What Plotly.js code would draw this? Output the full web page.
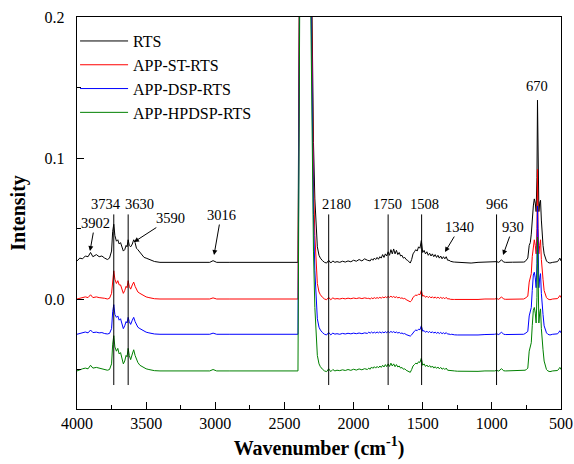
<!DOCTYPE html>
<html>
<head>
<meta charset="utf-8">
<script src="https://cdn.plot.ly/plotly-3.0.1.min.js"></script>
<style>html,body{margin:0;padding:0;background:#fff}#chart{width:574px;height:464px}</style>
</head>
<body>
<div id="chart"></div>
<script>
// Wavenumber grid (cm-1)
const wavenumber = [
  4000,3980,3960,3940,3920,3902,3885,3860,3840,3820,3800,3780,3765,
  3750,3742,3734,3726,3715,3705,3695,3685,3675,3665,3655,3645,3638,3630,3622,3612,3600,3590,3580,3570,3560,3545,3530,3515,3500,3480,3460,3440,
  3400,3300,3200,3100,3040,3016,2990,2900,2800,2700,2600,2500,2420,
  2402,2385,2360,2340,2320,2305,2300,2290,2280,2270,2262,2250,2240,2225,2210,
  2195,2180,2165,2150,2135,2120,2100,2080,2060,2040,2020,2000,1980,1960,1940,1920,1900,
  1890,1880,1870,1860,1850,1840,1830,1820,1810,1800,1790,1780,1770,1760,1750,1740,1730,1720,1710,1700,
  1690,1680,1670,1660,1650,1640,1630,1620,1610,1600,1590,1580,1570,1560,1550,1540,1530,1520,1510,1500,
  1490,1480,1470,1460,1450,1440,1430,1420,1410,1400,1390,1380,1370,1360,1350,1340,1330,1320,1310,1300,1290,1280,1270,
  1250,1200,1150,1100,1050,1000,980,966,950,930,915,900,850,800,770,
  760,750,740,730,722,715,708,700,693,686,680,674,670,666,660,654,648,642,636,630,622,614,605,595,580,560,540,525,515,508,500
];

// Series names and vertical stacking offsets
const seriesNames = ["RTS", "APP-ST-RTS", "APP-DSP-RTS", "APP-HPDSP-RTS"];
const seriesOffsets = [0.026, 0.0, -0.025, -0.051];

// Intensities relative to each curve's own baseline
const rts = [
  0.001,0.003,0.0025,0.0045,0.004,0.007,0.004,0.0055,0.004,0.0045,0.003,0.002,0.003,
  0.008,0.022,0.027,0.019,0.015,0.016,0.013,0.014,0.011,0.008,0.009,0.012,0.011,0.016,0.012,0.011,0.013,0.016,0.014,0.010,0.009,0.007,0.005,0.0035,0.003,0.002,0.0012,0.0006,
  0,0,0.0002,0,0,0.0012,0,0,0,0,0,0,0,
  0,0.35,0.6,0.55,0.35,0.2,0.15,0.085,0.045,0.022,0.011,0.005,0.003,0.0012,0,
  -0.0005,0.0015,-0.0005,0.001,0,0.0005,0,0.0008,0.0002,0.001,0.0004,0.0015,0.0008,0.002,0.001,0.0025,0.0015,
  0.0015,0.001,0.0025,0.0015,0.003,0.002,0.0035,0.0022,0.004,0.003,0.0055,0.0035,0.006,0.0045,0.0075,0.005,0.009,0.006,0.0095,0.006,
  0.0085,0.0055,0.007,0.0045,0.005,0.003,0.0035,0.002,0.0015,0.0005,-0.0005,0.002,0.006,0.0075,0.009,0.008,0.011,0.010,0.0155,0.007,
  0.0085,0.006,0.0075,0.005,0.0065,0.0045,0.006,0.004,0.0055,0.0035,0.005,0.003,0.0045,0.0025,0.004,0.0025,0.004,0.0015,0.0015,0.0008,0.0008,0.0003,0.0002,
  0,-0.0003,-0.0005,0,0.0002,0,0.0003,0.0005,0,0.0018,0.0002,0,0.0001,0,0.0002,
  0.0005,0.002,0.003,0.012,0.014,0.02,0.032,0.04,0.045,0.042,0.036,0.06,0.115,0.06,0.036,0.042,0.044,0.03,0.015,0.012,0.006,0.003,0.001,0,-0.0005,0,0,0.0005,0.002,0.003,0.001
];
const appSt = [
  0,0.0005,0.001,0.0015,0.001,0.003,0.001,0.0015,0.001,0.001,0.0005,0,0.0005,
  0.004,0.015,0.020,0.014,0.011,0.013,0.010,0.010,0.007,0.004,0.006,0.009,0.008,0.013,0.009,0.007,0.010,0.012,0.009,0.007,0.005,0.004,0.003,0.002,0.0015,0.001,0.0005,0.0002,
  0,0,0,0,0,0.0008,0,0,0,0,0,0,0,
  0,0.35,0.6,0.55,0.35,0.2,0.15,0.085,0.045,0.022,0.011,0.005,0.003,0.0012,0,
  -0.0005,0.0012,-0.0005,0.0008,0,0.0003,0,0.0005,0.0001,0.0006,0.0002,0.0007,0.0003,0.0008,0.0003,0.0008,0.0004,
  0.0005,0,0.0008,0.0002,0.001,0.0004,0.001,0.0005,0.0012,0.0006,0.0014,0.0008,0.0016,0.001,0.0018,0.0012,0.002,0.0012,0.0018,0.001,
  0.0016,0.0008,0.0012,0.0005,0.0008,0.0002,0.0004,-0.0004,-0.001,-0.0018,-0.002,-0.001,0.0012,0.002,0.0028,0.0025,0.0035,0.003,0.006,0.002,
  0.0025,0.0012,0.002,0.001,0.0018,0.0008,0.0016,0.0006,0.0015,0.0005,0.0014,0.0004,0.0012,0.0004,0.001,0.0002,0.0012,0,0.0002,-0.0002,0,-0.0003,-0.0003,
  -0.0003,-0.0004,-0.0006,-0.0003,0,-0.0002,0,0.0003,-0.0002,0.0015,0,-0.0002,0,-0.0002,0,
  0.0005,0.001,0.002,0.012,0.016,0.018,0.03,0.04,0.042,0.038,0.032,0.05,0.092,0.05,0.032,0.038,0.042,0.028,0.016,0.014,0.006,0.003,0.001,0,-0.0005,0,0,0.0003,0.0015,0.0025,0.001
];
const appDsp = [
  0,0.0006,0.001,0.0016,0.001,0.003,0.0012,0.0015,0.001,0.0012,0.0005,0.0002,0.0006,
  0.004,0.016,0.021,0.014,0.012,0.013,0.010,0.011,0.007,0.004,0.006,0.009,0.008,0.012,0.009,0.007,0.010,0.012,0.009,0.007,0.005,0.004,0.003,0.002,0.0015,0.001,0.0005,0.0002,
  0,0,0,0,0,0.0008,0,0,0,0,0,0,0,
  0,0.35,0.6,0.55,0.35,0.2,0.15,0.085,0.045,0.022,0.011,0.005,0.003,0.0012,0,
  -0.0005,0.0013,-0.0004,0.0008,0.0001,0.0004,0,0.0006,0.0002,0.0007,0.0003,0.0008,0.0004,0.0009,0.0004,0.001,0.0006,
  0.0015,0.0008,0.0016,0.0008,0.0015,0.0009,0.0016,0.001,0.0017,0.0009,0.0016,0.001,0.0018,0.0011,0.002,0.0012,0.002,0.0013,0.0019,0.0011,
  0.0016,0.0009,0.0013,0.0006,0.0009,0.0003,0.0005,-0.0002,-0.0006,-0.0011,-0.0013,-0.0004,0.0014,0.0022,0.003,0.0026,0.0036,0.0032,0.006,0.0022,
  0.0026,0.0014,0.0022,0.0012,0.002,0.001,0.0018,0.0008,0.0016,0.0006,0.0014,0.0005,0.0013,0.0004,0.0011,0.0003,0.0012,0.0001,0.0002,-0.0002,0,-0.0004,-0.0004,
  -0.0005,-0.0006,-0.0008,-0.0005,-0.0002,-0.0003,0,0.0003,-0.0002,0.0015,0,-0.0002,0,-0.0002,0,
  0.0005,0.001,0.002,0.013,0.016,0.019,0.031,0.042,0.044,0.04,0.033,0.05,0.091,0.05,0.033,0.04,0.043,0.029,0.016,0.014,0.006,0.003,0.001,0,-0.0005,0,0,0.0003,0.0015,0.0025,0.001
];
const appHpdsp = [
  0,0.001,0.0015,0.002,0.0015,0.004,0.002,0.0025,0.002,0.002,0.001,0.0005,0.001,
  0.005,0.019,0.025,0.017,0.014,0.016,0.012,0.013,0.008,0.005,0.007,0.011,0.010,0.016,0.011,0.008,0.012,0.015,0.011,0.008,0.006,0.004,0.003,0.002,0.0015,0.001,0.0005,0.0002,
  0,0,0,0,0,0.001,0,0,0,0,0,0,0,
  0,0.35,0.6,0.55,0.35,0.2,0.15,0.085,0.045,0.022,0.011,0.005,0.003,0.0012,0,
  -0.0005,0.0015,-0.0005,0.001,0,0.0005,0.0002,0.0008,0.0003,0.001,0.0004,0.0012,0.0006,0.0014,0.0008,0.0016,0.001,
  0.002,0.0012,0.0028,0.0018,0.003,0.002,0.0032,0.0022,0.0035,0.0025,0.004,0.0028,0.0045,0.003,0.005,0.0032,0.0055,0.0035,0.005,0.003,
  0.0045,0.0028,0.0035,0.002,0.0025,0.0012,0.0015,0.0005,0,-0.0008,-0.001,0.001,0.0035,0.0045,0.0055,0.005,0.0065,0.006,0.009,0.004,
  0.005,0.0032,0.0042,0.0028,0.0038,0.0025,0.0035,0.002,0.003,0.0018,0.0028,0.0015,0.0025,0.0012,0.002,0.001,0.002,0.0005,0.0005,0,0.0002,0,0,
  -0.0002,-0.0004,-0.0006,-0.0003,0,-0.0002,0,0.0004,-0.0001,0.0016,0.0001,0,0.0001,0,0.0002,
  0.0005,0.001,0.002,0.014,0.017,0.02,0.032,0.043,0.045,0.041,0.034,0.052,0.095,0.052,0.034,0.041,0.044,0.03,0.017,0.015,0.007,0.003,0.001,0,-0.0005,0,0,0.0003,0.0015,0.0025,0.001
];
const seriesValues = [rts, appSt, appDsp, appHpdsp];
const seriesColors = ["#000000", "#ff0000", "#0000ff", "#008000"];

// Marked bands (vertical reference lines) and labels
const lineBands = [3734, 3630, 2180, 1750, 1508, 966];
const plainLabels = ["3734", "3630", "2180", "1750", "1508", "966", "670"];
const plainLabelX = [3790, 3548, 2127, 1758, 1487, 963, 674];
const arrowLabels = ["3902", "3590", "3016", "1340", "930"];
const arrowHeadX = [3906, 3588, 3009, 1339, 919];
const arrowHeadY = [0.034, 0.0404, 0.0312, 0.0333, 0.0312];

const serif = "Liberation Serif";

const traces = seriesNames.map((name, i) => ({
  type: "scatter",
  mode: "lines",
  name: name,
  x: wavenumber,
  y: seriesValues[i].map(v => v + seriesOffsets[i]),
  line: {color: seriesColors[i], width: 1}
}));

const arrowOffsets = [[5, -28], [37, -24], [7, -40], [15, -25], [10, -28]];

const annotations = [];
plainLabels.forEach((t, i) => {
  annotations.push({
    x: plainLabelX[i], y: t === "670" ? 0.151 : 0.0674,
    xref: "x", yref: "y", text: t, showarrow: false,
    font: {family: serif, size: 14.5, color: "#000"}
  });
});
arrowLabels.forEach((t, i) => {
  annotations.push({
    x: arrowHeadX[i], y: arrowHeadY[i], xref: "x", yref: "y",
    text: t, showarrow: true, arrowhead: 2, arrowsize: 1, arrowwidth: 1,
    arrowcolor: "#000", ax: arrowOffsets[i][0], ay: arrowOffsets[i][1],
    font: {family: serif, size: 14.5, color: "#000"}
  });
});

const shapes = lineBands.map(b => ({
  type: "line", xref: "x", yref: "y", x0: b, x1: b, y0: -0.061, y1: 0.06,
  line: {color: "#000", width: 1}
}));

const layout = {
  width: 574, height: 464,
  margin: {l: 77, r: 13, t: 17, b: 55},
  paper_bgcolor: "#fff", plot_bgcolor: "#fff",
  font: {family: serif, size: 16, color: "#000"},
  showlegend: true,
  legend: {
    x: -0.004, y: 0.982, xanchor: "left", yanchor: "top",
    bgcolor: "rgba(0,0,0,0)", borderwidth: 0,
    font: {family: serif, size: 16, color: "#000"},
    itemwidth: 48, tracegroupgap: 0
  },
  xaxis: {
    range: [4000, 500], autorange: false,
    tickvals: [4000, 3500, 3000, 2500, 2000, 1500, 1000, 500],
    ticks: "inside", ticklen: 7, tickwidth: 1, tickcolor: "#000",
    minor: {dtick: 250, tick0: 0, ticks: "inside", ticklen: 4, tickcolor: "#000"},
    showline: true, linecolor: "#000", linewidth: 1.2, mirror: true,
    showgrid: false, zeroline: false,
    ticklabelstandoff: 0,
    tickfont: {family: serif, size: 16, color: "#000"},
    title: {text: "<b>Wavenumber (cm<sup>-1</sup>)</b>", font: {family: serif, size: 20, color: "#000"}, standoff: 9}
  },
  yaxis: {
    range: [-0.078, 0.2], autorange: false,
    tickvals: [0, 0.1, 0.2], ticktext: ["0.0", "0.1", "0.2"],
    ticks: "inside", ticklen: 7, tickwidth: 1, tickcolor: "#000",
    minor: {dtick: 0.05, tick0: 0, ticks: "inside", ticklen: 4, tickcolor: "#000"},
    showline: true, linecolor: "#000", linewidth: 1.2, mirror: true,
    showgrid: false, zeroline: false,
    ticklabelstandoff: 8,
    tickfont: {family: serif, size: 16, color: "#000"},
    title: {text: "<b>Intensity</b>", font: {family: serif, size: 20, color: "#000"}, standoff: 13}
  },
  annotations: annotations,
  shapes: shapes
};

Plotly.newPlot("chart", traces, layout, {displayModeBar: false, staticPlot: true});
</script>
</body>
</html>
